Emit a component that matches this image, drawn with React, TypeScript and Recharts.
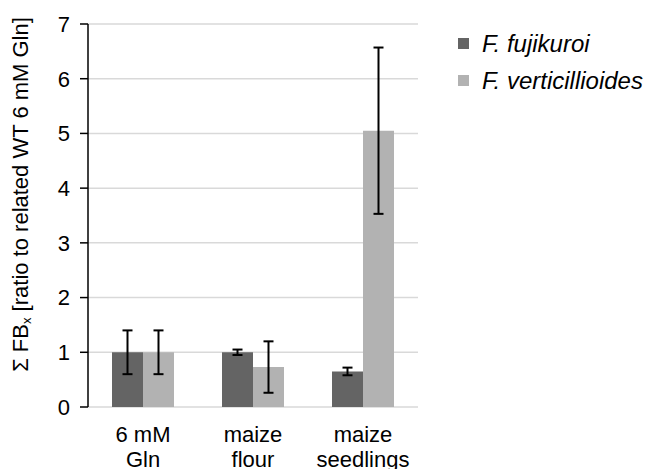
import { BarChart, Bar, XAxis, YAxis, CartesianGrid, ErrorBar, Legend } from "recharts";

const categories = ["6 mM\nGln", "maize\nflour", "maize\nseedlings"];
const fujikuroi = [1.0, 1.0, 0.65];
const fujikuroiErr = [0.4, 0.05, 0.07];
const verticillioides = [1.0, 0.73, 5.05];
const verticillioidesErr = [0.4, 0.47, 1.52];
const yTicks = [0, 1, 2, 3, 4, 5, 6, 7];
const boundaryTicks = [0, 1, 2, 3];

const data = categories.map((name, i) => ({
  name,
  pos: i + 0.5,
  fuji: fujikuroi[i],
  fujiErr: fujikuroiErr[i],
  vert: verticillioides[i],
  vertErr: verticillioidesErr[i],
}));

const FONT = "'Liberation Sans', Arial, sans-serif";
const DARK = "#646464";
const LIGHT = "#b2b2b2";

const CategoryTick = (props: any) => {
  const { x, y, payload } = props;
  const lines = String(payload.value).split("\n");
  return (
    <text x={x} y={y} textAnchor="middle" fontFamily={FONT} fontSize={22} fill="#000">
      {lines.map((l, i) => (
        <tspan key={i} x={x} dy={i === 0 ? 35 : 25}>
          {l}
        </tspan>
      ))}
    </text>
  );
};

const YLabel = (props: any) => {
  const { viewBox } = props;
  const cx = viewBox.x + 20;
  const cy = viewBox.y + viewBox.height / 2 - 21;
  return (
    <text
      x={cx}
      y={cy}
      transform={`rotate(-90, ${cx}, ${cy})`}
      textAnchor="middle"
      dominantBaseline="central"
      fontFamily={FONT}
      fontSize={22}
      fill="#000"
    >
      <tspan>Σ FB</tspan>
      <tspan fontSize={13} dy={6}>x</tspan>
      <tspan dy={-6}> [ratio to related WT 6 mM Gln]</tspan>
    </text>
  );
};

const renderLegend = (props: any) => (
  <div style={{ display: "flex", flexDirection: "column" }}>
    {props.payload.map((entry: any) => (
      <div key={entry.value} style={{ display: "flex", alignItems: "center", height: 37 }}>
        <span style={{ width: 11, height: 11, background: entry.color, marginRight: 13 }} />
        <span style={{ fontStyle: "italic", fontSize: 24, fontFamily: FONT, color: "#000" }}>
          {entry.value}
        </span>
      </div>
    ))}
  </div>
);

export default function App() {
  return (
    <div style={{ position: "absolute", left: 0, top: 0, background: "#fff" }}>
      <BarChart
        width={646}
        height={469}
        data={data}
        margin={{ top: 24, right: 228, bottom: 0, left: 0 }}
        barGap={0}
        barSize={31}
      >
        <CartesianGrid vertical={false} stroke="#d9d9d9" strokeWidth={1.5} />
        <XAxis
          xAxisId="bounds"
          type="number"
          dataKey="pos"
          domain={[0, 3]}
          ticks={boundaryTicks}
          tick={false}
          tickSize={8}
          height={0}
          stroke="#000"
          strokeWidth={1.5}
        />
        <XAxis
          xAxisId="cat"
          dataKey="name"
          axisLine={false}
          tickLine={false}
          tickSize={0}
          tickMargin={0}
          height={62}
          interval={0}
          tick={<CategoryTick />}
        />
        <YAxis
          domain={[0, 7]}
          ticks={yTicks}
          width={88}
          tickSize={8}
          tickMargin={10}
          stroke="#000"
          strokeWidth={1.5}
          tick={{ fontFamily: FONT, fontSize: 22, fill: "#000" }}
          label={<YLabel />}
        />
        <Legend
          layout="vertical"
          align="center"
          verticalAlign="middle"
          content={renderLegend}
          wrapperStyle={{ left: 458, top: 25, width: "auto" }}
        />
        <Bar xAxisId="cat" dataKey="fuji" name="F. fujikuroi" fill={DARK} isAnimationActive={false}>
          <ErrorBar dataKey="fujiErr" width={5} stroke="#000" strokeWidth={2} />
        </Bar>
        <Bar xAxisId="cat" dataKey="vert" name="F. verticillioides" fill={LIGHT} isAnimationActive={false}>
          <ErrorBar dataKey="vertErr" width={5} stroke="#000" strokeWidth={2} />
        </Bar>
      </BarChart>
    </div>
  );
}
